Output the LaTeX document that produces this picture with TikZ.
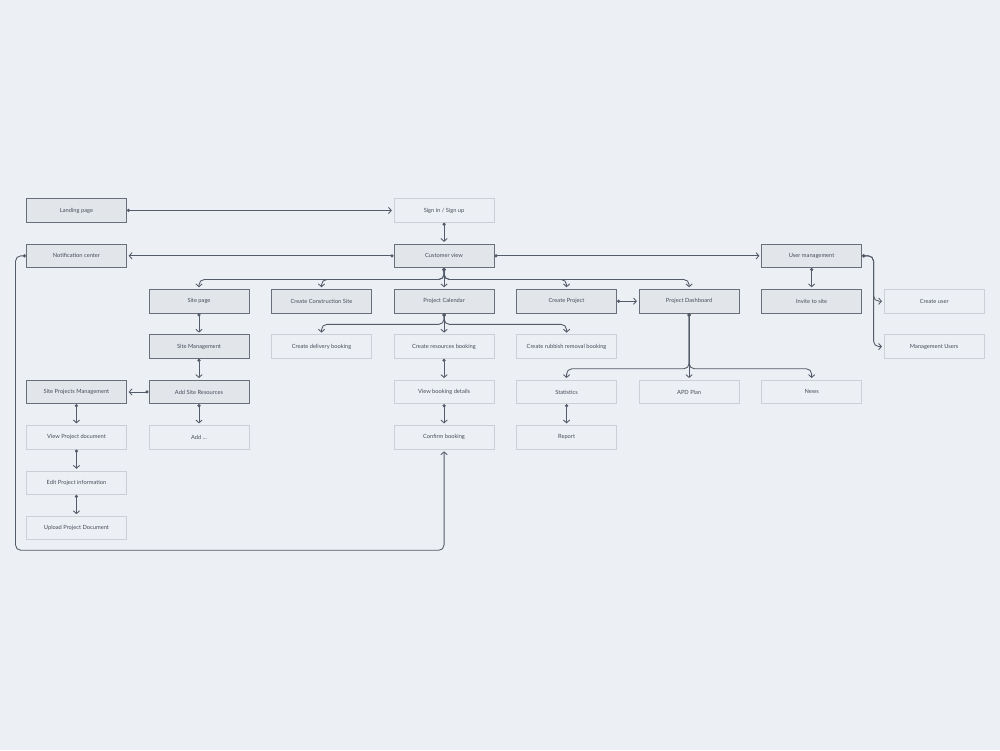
\documentclass[tikz,border=0pt]{standalone}
\usepackage{fontspec}
\setmainfont{Lato}
\usetikzlibrary{arrows.meta,positioning,calc}
\definecolor{canvas}{RGB}{236,239,243}
\definecolor{keyfill}{RGB}{226,229,234}
\definecolor{keyline}{RGB}{104,110,122}
\definecolor{subline}{RGB}{204,208,214}
\definecolor{wire}{RGB}{84,91,106}
\definecolor{ink}{RGB}{70,76,90}

\begin{document}
\begin{tikzpicture}[
    node distance=0.42cm and 0.433cm,
    every node/.style={align=center,text=ink,font=\fontsize{3.25}{4}\selectfont},
    keybox/.style={draw=keyline,fill=keyfill,line width=0.5pt,minimum width=2cm,minimum height=0.47cm,inner sep=0pt},
    subbox/.style={draw=subline,line width=0.5pt,minimum width=2cm,minimum height=0.47cm,inner sep=0pt},
    link/.style={draw=wire,line width=0.5pt,rounded corners=3pt,shorten >=1pt,
      arrows={Circle[length=1.8pt]-Straight Barb[length=1.6pt,width=3.6pt]}}]
  \useasboundingbox[fill=canvas] (0,0) rectangle (20,-15);

  % row of main pages
  \node[keybox] (site) at (3.98,-6.024) {Site page};
  \node[keybox,right=of site] (build) {Create Construction Site};
  \node[keybox,right=of build] (calendar) {Project Calendar};
  \node[keybox,right=of calendar] (newproj) {Create Project};
  \node[keybox,right=of newproj] (dash) {Project Dashboard};
  \node[keybox,right=of dash] (invite) {Invite to site};
  \node[subbox,right=of invite] (adduser) {Create user};

  % top rows
  \node[keybox,above=of calendar] (customer) {Customer view};
  \node[subbox,above=of customer] (signin) {Sign in / Sign up};
  \node[keybox,above=of invite] (users) {User management};
  \node[keybox,above left=of site] (notify) {Notification center};
  \node[keybox,above=of notify] (landing) {Landing page};

  % lower rows
  \node[keybox,below=of site] (sitemgmt) {Site Management};
  \node[subbox,below=of build] (delivery) {Create delivery booking};
  \node[subbox,below=of calendar] (resbook) {Create resources booking};
  \node[subbox,below=of newproj] (rubbish) {Create rubbish removal booking};
  \node[subbox,below=of adduser] (mgusers) {Management Users};
  \node[keybox,below=of sitemgmt] (resources) {Add Site Resources};
  \node[keybox,left=of resources] (siteproj) {Site Projects Management};
  \node[subbox,below=of resbook] (details) {View booking details};
  \node[subbox,below=of rubbish] (stats) {Statistics};
  \node[subbox,right=of stats] (apd) {APD Plan};
  \node[subbox,right=of apd] (news) {News};
  \node[subbox,below=of siteproj] (viewdoc) {View Project document};
  \node[subbox,below=of resources] (addmore) {Add ...};
  \node[subbox,below=of details] (confirm) {Confirm booking};
  \node[subbox,below=of stats] (report) {Report};
  \node[subbox,below=of viewdoc] (editinfo) {Edit Project information};
  \node[subbox,below=of editinfo] (upload) {Upload Project Document};

  % bend points
  \coordinate (custbus) at ($(customer.south)+(0,-0.23)$);
  \coordinate (calbus) at ($(calendar.south)+(0,-0.22)$);
  \coordinate (dashbus) at ($(apd.north)+(0,0.22)$);
  \coordinate (userbend) at ($(users.east)+(0.23,0)$);
  \coordinate (loopleft) at ($(notify.west)+(-0.21,0)$);
  \coordinate (loopbase) at ($(upload.south)+(0,-0.2)$);

  \draw[link] (landing) -- (signin);
  \draw[link] (signin) -- (customer);
  \draw[link] (customer) -- (notify);
  \draw[link] (customer) -- (users);
  \draw[link] (customer.south) -- (custbus) -| (site.north);
  \draw[link] (customer.south) -- (custbus) -| (build.north);
  \draw[link] (customer) -- (calendar);
  \draw[link] (customer.south) -- (custbus) -| (newproj.north);
  \draw[link] (customer.south) -- (custbus) -| (dash.north);
  \draw[link] (newproj) -- (dash);
  \draw[link] (users) -- (invite);
  \draw[link] (users.east) -- (userbend) |- (adduser.west);
  \draw[link] (users.east) -- (userbend) |- (mgusers.west);
  \draw[link] (calendar.south) -- (calbus) -| (delivery.north);
  \draw[link] (calendar) -- (resbook);
  \draw[link] (calendar.south) -- (calbus) -| (rubbish.north);
  \draw[link] (dash.south) -- (dashbus) -| (stats.north);
  \draw[link] (dash) -- (apd);
  \draw[link] (dash.south) -- (dashbus) -| (news.north);
  \draw[link] (site) -- (sitemgmt);
  \draw[link] (sitemgmt) -- (resources);
  \draw[link] (resources) -- (siteproj);
  \draw[link] (resources) -- (addmore);
  \draw[link] (siteproj) -- (viewdoc);
  \draw[link] (viewdoc) -- (editinfo);
  \draw[link] (editinfo) -- (upload);
  \draw[link] (resbook) -- (details);
  \draw[link] (details) -- (confirm);
  \draw[link] (stats) -- (report);
  \draw[link] (notify.west) -- (loopleft) |- (loopbase -| confirm.south) -- (confirm.south);
\end{tikzpicture}
\end{document}
